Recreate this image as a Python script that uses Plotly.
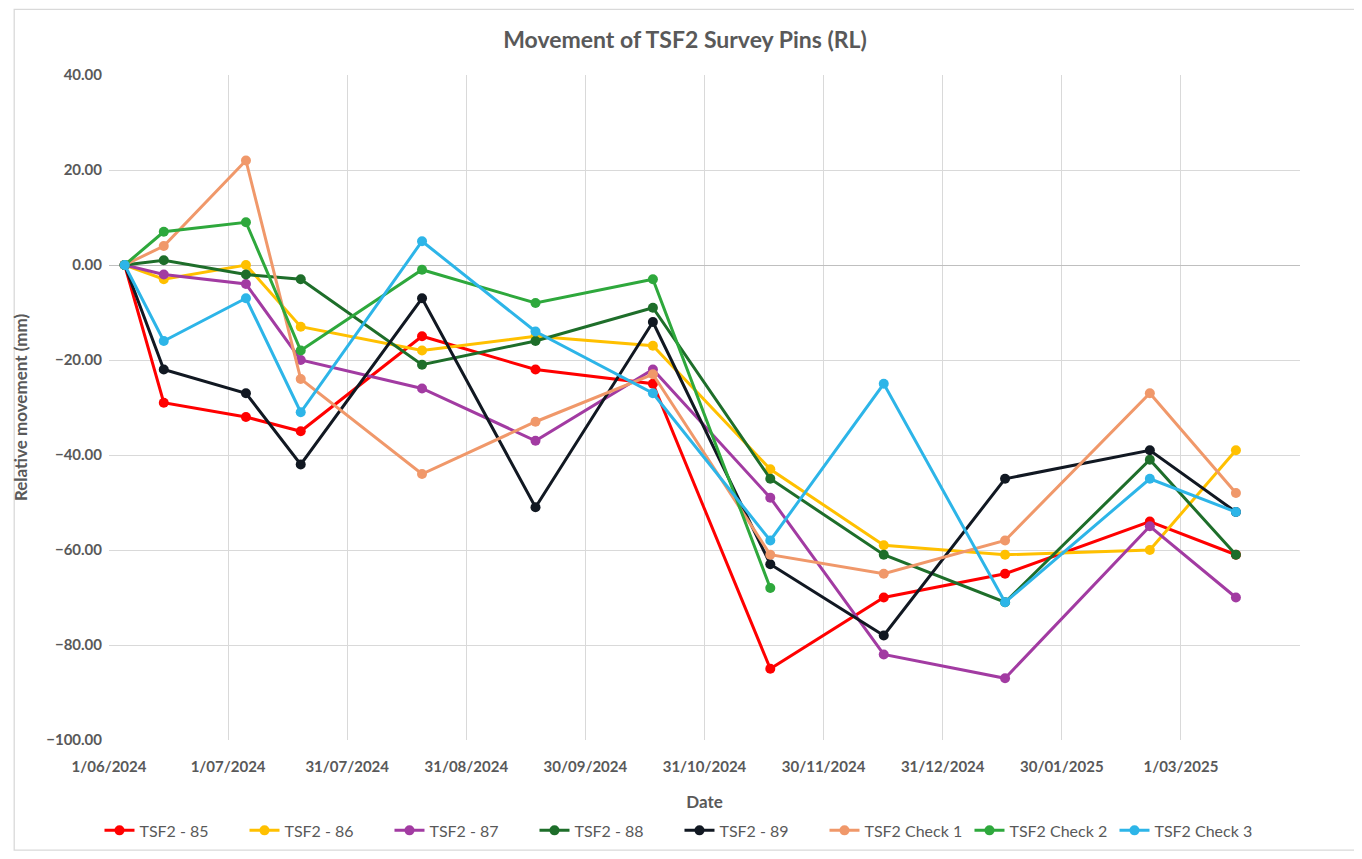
import pandas as pd
import plotly.graph_objects as go

dates = ['2024-06-05', '2024-06-15', '2024-07-06', '2024-07-20', '2024-08-20', '2024-09-18',
         '2024-10-18', '2024-11-17', '2024-12-16', '2025-01-16', '2025-02-22', '2025-03-16']

tsf2_85 = [0, -29, -32, -35, -15, -22, -25, -85, -70, -65, -54, -61]
tsf2_86 = [0, -3, 0, -13, -18, -15, -17, -43, -59, -61, -60, -39]
tsf2_87 = [0, -2, -4, -20, -26, -37, -22, -49, -82, -87, -55, -70]
tsf2_88 = [0, 1, -2, -3, -21, -16, -9, -45, -61, -71, -41, -61]
tsf2_89 = [0, -22, -27, -42, -7, -51, -12, -63, -78, -45, -39, -52]
check_1 = [0, 4, 22, -24, -44, -33, -23, -61, -65, -58, -27, -48]
check_2 = [0, 7, 9, -18, -1, -8, -3, -68, None, None, None, None]
check_3 = [0, -16, -7, -31, 5, -14, -27, -58, -25, -71, -45, -52]

tick_labels = ['1/06/2024', '1/07/2024', '31/07/2024', '31/08/2024', '30/09/2024',
               '31/10/2024', '30/11/2024', '31/12/2024', '30/01/2025', '1/03/2025']

series = [
    ('TSF2 - 85', tsf2_85, '#FF0000'),
    ('TSF2 - 86', tsf2_86, '#FFC000'),
    ('TSF2 - 87', tsf2_87, '#A23BA2'),
    ('TSF2 - 88', tsf2_88, '#1E6E2A'),
    ('TSF2 - 89', tsf2_89, '#111822'),
    ('TSF2 Check 1', check_1, '#F0986A'),
    ('TSF2 Check 2', check_2, '#2EA83C'),
    ('TSF2 Check 3', check_3, '#2DB5E8'),
]

# Excel-style date axis: major unit of one average month
start = pd.Timestamp('2024-06-01')
step = pd.Timedelta(days=30.4375)
tick_vals = [start + k * step for k in range(len(tick_labels))]
x_end = start + 10 * step

fig = go.Figure()
for name, vals, color in series:
    fig.add_trace(go.Scatter(
        x=pd.to_datetime(dates), y=vals, name=name, mode='lines+markers',
        line=dict(color=color, width=3),
        marker=dict(color=color, size=10),
    ))

grey = '#595959'
# page body has an 8px margin, so the figure is sized to fit inside it
W, H = 1354, 851
ml, mr, mt, mb = 96, 62, 67, 114
pw, ph = W - ml - mr, H - mt - mb

fig.update_layout(
    width=W, height=H,
    margin=dict(l=ml, r=mr, t=mt, b=mb),
    paper_bgcolor='white', plot_bgcolor='white',
    font=dict(family='Lato, Open Sans, sans-serif', color=grey, size=13),
    title=dict(text='<b>Movement of TSF2 Survey Pins (RL)</b>', x=0.5, y=1 - 32 / H,
               xanchor='center', yanchor='middle', font=dict(size=23, color=grey)),
    legend=dict(orientation='h', x=0.479, xanchor='center',
                y=-0.136, yanchor='middle',
                font=dict(size=16, color=grey), itemwidth=30,
                entrywidth=100, entrywidthmode='pixels', traceorder='normal'),
    showlegend=True,
)

fig.update_xaxes(
    range=[start, x_end], tickvals=tick_vals, ticktext=tick_labels,
    showgrid=True, gridcolor='#D9D9D9', gridwidth=1.3,
    showline=False, zeroline=False, ticks='', ticklabelstandoff=16,
    tickfont=dict(size=15, color=grey, weight='bold'),
    title=dict(text='<b>Date</b>', font=dict(size=17, color=grey), standoff=22),
)
fig.update_yaxes(
    range=[-100, 40], dtick=20, tickformat='.2f',
    showgrid=True, gridcolor='#D9D9D9', gridwidth=1.3,
    zeroline=True, zerolinecolor='#BFBFBF', zerolinewidth=1.3,
    showline=False, ticks='', ticklabelstandoff=6,
    tickfont=dict(size=15, color=grey, weight='bold'),
    title=dict(text='<b>Relative movement (mm)</b>', font=dict(size=17, color=grey), standoff=14),
)

# outer chart border
fig.add_shape(type='rect', xref='paper', yref='paper',
              x0=(0.8 - ml) / pw, x1=(1350 - ml) / pw,
              y0=(H - mb - 848) / ph, y1=(H - mb - 0.8) / ph,
              line=dict(color='#D9D9D9', width=1.3), fillcolor='rgba(0,0,0,0)', layer='below')

fig.write_html('out.html')
